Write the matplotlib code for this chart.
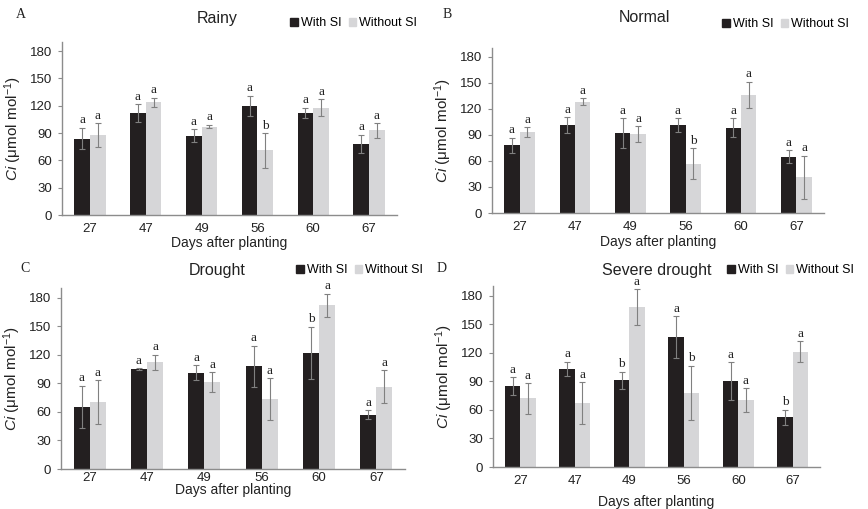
import numpy as np
import matplotlib
matplotlib.use('Agg')
import matplotlib.pyplot as plt
from matplotlib.patches import Patch

plt.rcParams['font.family'] = ['Liberation Sans', 'DejaVu Sans']
plt.rcParams['mathtext.fontset'] = 'custom'
plt.rcParams['mathtext.rm'] = 'Liberation Sans'
plt.rcParams['mathtext.it'] = 'Liberation Sans:italic'

days = ['27', '47', '49', '56', '60', '67']

# Rainy
rainy_with = [84, 112, 87, 120, 112, 78]
rainy_with_err = [12, 10, 7, 11, 6, 10]
rainy_without = [88, 124, 97, 71, 118, 93]
rainy_without_err = [13, 5, 2, 19, 9.5, 8]
rainy_let_with = ['a', 'a', 'a', 'a', 'a', 'a']
rainy_let_without = ['a', 'a', 'a', 'b', 'a', 'a']

# Normal
normal_with = [78, 101, 92, 101, 98, 65]
normal_with_err = [8.5, 9, 17.5, 8, 11, 7.5]
normal_without = [93, 128, 91, 57, 136, 41]
normal_without_err = [6, 4, 9, 17.5, 15, 25]
normal_let_with = ['a', 'a', 'a', 'a', 'a', 'a']
normal_let_without = ['a', 'a', 'a', 'b', 'a', 'a']

# Drought
drought_with = [65.5, 105, 101, 108, 122, 57]
drought_with_err = [22, 1, 8, 21.5, 27.5, 5]
drought_without = [70, 112, 91, 73.5, 172, 86.5]
drought_without_err = [23, 8, 10.5, 22, 12, 17.5]
drought_let_with = ['a', 'a', 'a', 'a', 'b', 'a']
drought_let_without = ['a', 'a', 'a', 'a', 'a', 'a']

# Severe drought
severe_with = [85, 103, 91, 136.5, 90, 52]
severe_with_err = [9, 7.5, 9, 22, 20, 8]
severe_without = [72, 67, 168, 78, 70.5, 121]
severe_without_err = [16, 22, 18.5, 28.5, 12.5, 11]
severe_let_with = ['a', 'a', 'b', 'a', 'a', 'b']
severe_let_without = ['a', 'a', 'a', 'b', 'a', 'a']

W, H = 868, 509
fig = plt.figure(figsize=(W / 100, H / 100), dpi=100)

black = '#231f20'
grey = '#d6d6d8'
spine = '#8c8c8c'
errc = '#808080'


def px(l, t, r, b):
    return [l / W, 1 - b / H, (r - l) / W, (b - t) / H]


def panel(rect, title, tx, ty, letter, lx, ly, legx, legy, xly, xpad,
          w, we, wo, woe, lw, lwo):
    ax = fig.add_axes(px(*rect))
    x = np.arange(len(days))
    bw = 0.28
    ax.bar(x - bw / 2, w, bw, color=black, zorder=2)
    ax.bar(x + bw / 2, wo, bw, color=grey, zorder=2)
    ax.errorbar(x - bw / 2, w, yerr=we, fmt='none', ecolor=errc,
                elinewidth=0.8, capsize=2.5, capthick=0.8, zorder=3)
    ax.errorbar(x + bw / 2, wo, yerr=woe, fmt='none', ecolor=errc,
                elinewidth=0.8, capsize=2.5, capthick=0.8, zorder=3)
    for i in range(len(days)):
        ax.annotate(lw[i], (x[i] - bw / 2, w[i] + we[i]), xytext=(0, 1),
                    textcoords='offset points', ha='center', va='bottom',
                    family='Liberation Serif', fontsize=9.5, color='#222222')
        ax.annotate(lwo[i], (x[i] + bw / 2, wo[i] + woe[i]), xytext=(0, 1),
                    textcoords='offset points', ha='center', va='bottom',
                    family='Liberation Serif', fontsize=9.5, color='#222222')
    ax.set_xlim(-0.5, len(days) - 0.5)
    ax.set_ylim(0, 190)
    ax.set_yticks(range(0, 181, 30))
    ax.set_xticks(x)
    ax.set_xticklabels(days)
    for s in ['top', 'right']:
        ax.spines[s].set_visible(False)
    for s in ['left', 'bottom']:
        ax.spines[s].set_color(spine)
        ax.spines[s].set_linewidth(1.0)
    ax.tick_params(axis='y', length=3, color=spine, labelsize=9.5, labelcolor='#222222', pad=4)
    ax.tick_params(axis='x', length=0, labelsize=9.5, labelcolor='#222222', pad=xpad)
    ax.set_ylabel(r'$Ci$ ($\mathrm{\mu}$mol mol$^{-1}$)', fontsize=11, color='#222222', labelpad=4)
    fig.text(sum(rect[::2]) / 2 / W, 1 - xly / H, 'Days after planting',
             ha='center', va='center', fontsize=10, color='#222222')
    fig.text(tx / W, 1 - ty / H, title, ha='center', va='center', fontsize=11.5, color='#222222')
    fig.text(lx / W, 1 - ly / H, letter, ha='left', va='center',
             family='Liberation Serif', fontsize=10, color='#222222')
    handles = [Patch(color=black, label='With SI'), Patch(color=grey, label='Without SI')]
    ax.legend(handles=handles, loc='center left', bbox_to_anchor=(legx / W, 1 - legy / H),
              bbox_transform=fig.transFigure, ncol=2, frameon=False, fontsize=9,
              handlelength=0.6, handleheight=0.6, handletextpad=0.25,
              columnspacing=0.6, borderpad=0, borderaxespad=0)
    return ax


panel((62, 42, 397, 215), 'Rainy', 217, 18, 'A', 16, 15, 290, 23, 243, 6,
      rainy_with, rainy_with_err, rainy_without, rainy_without_err,
      rainy_let_with, rainy_let_without)
panel((492, 48, 824, 213), 'Normal', 644, 18, 'B', 443, 15, 722, 24, 242, 6,
      normal_with, normal_with_err, normal_without, normal_without_err,
      normal_let_with, normal_let_without)
panel((61, 288, 405, 469), 'Drought', 217, 270, 'C', 20, 268, 296, 270, 490, 2.5,
      drought_with, drought_with_err, drought_without, drought_without_err,
      drought_let_with, drought_let_without)
panel((493, 286, 820, 467), 'Severe drought', 657, 270, 'D', 437, 269, 727, 270, 502, 6,
      severe_with, severe_with_err, severe_without, severe_without_err,
      severe_let_with, severe_let_without)

fig.savefig('out.png', dpi=100)
